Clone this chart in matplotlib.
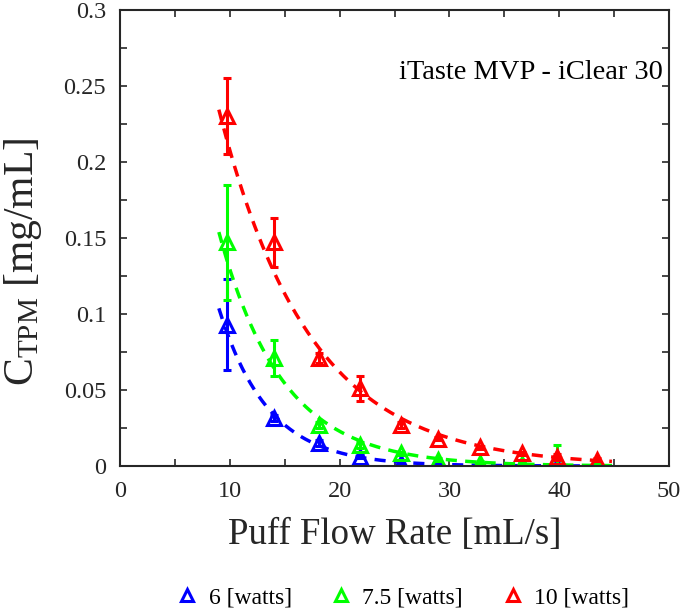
import numpy as np
import matplotlib
matplotlib.use('Agg')
import matplotlib.pyplot as plt
from matplotlib.ticker import MultipleLocator

plt.rcParams['font.family'] = ['Liberation Serif', 'DejaVu Serif']
plt.rcParams['mathtext.fontset'] = 'custom'
plt.rcParams['mathtext.rm'] = 'Liberation Serif'
plt.rcParams['mathtext.it'] = 'Liberation Serif:italic'

# flow rate [mL/s]
flow = np.array([9.7, 14.0, 18.1, 21.9, 25.6, 29.0, 32.8, 36.6, 39.8, 43.4])

# C_TPM [mg/mL] and error bars for each power setting
c6 = np.array([0.093, 0.0315, 0.015, 0.006, 0.0022, 0.0011, 0.0005, 0.00022, 0.0001, 0.00005])
e6 = np.array([0.030, 0.002, 0.002, 0.001, 0.001, 0.0005, 0.0005, 0.0005, 0.0005, 0.0005])
c75 = np.array([0.147, 0.071, 0.027, 0.014, 0.0085, 0.004, 0.0022, 0.0012, 0.005, 0.0001])
e75 = np.array([0.038, 0.012, 0.002, 0.002, 0.001, 0.001, 0.001, 0.001, 0.009, 0.001])
c10 = np.array([0.230, 0.147, 0.071, 0.051, 0.027, 0.018, 0.0125, 0.0085, 0.006, 0.004])
e10 = np.array([0.025, 0.016, 0.003, 0.0085, 0.002, 0.001, 0.001, 0.001, 0.002, 0.001])

labels = ['6 [watts]', '7.5 [watts]', '10 [watts]']
colors = ['#0000ff', '#00ff00', '#ff0000']


def expfit(x, y):
    # y = a*exp(b*x), fitted on log(y)
    b, lna = np.polyfit(x, np.log(y), 1)
    return np.exp(lna), b


fig = plt.figure(figsize=(6.82, 6.10), dpi=100)
ax = fig.add_axes([0.176, 0.236, 0.805, 0.748])

xf = np.linspace(9.0, 44.8, 200)
for c, e, lab, col in zip([c6, c75, c10], [e6, e75, e10], labels, colors):
    a, b = expfit(flow, c)
    ax.plot(xf, a*np.exp(b*xf), '--', color=col, lw=2.5, dashes=(3.2, 2.4))
    ax.errorbar(flow, c, yerr=e, fmt='none', ecolor=col, elinewidth=2.2,
                capsize=3, capthick=2.2)
    ax.plot(flow, c, '^', mfc='none', mec=col, mew=2.2, ms=10, label=lab)

ax.set_xlim(0, 50)
ax.set_ylim(0, 0.3)
ax.xaxis.set_major_locator(MultipleLocator(10))
ax.xaxis.set_minor_locator(MultipleLocator(5))
ax.yaxis.set_ticks([0, 0.05, 0.1, 0.15, 0.2, 0.25, 0.3])
ax.set_yticklabels(['0', '0.05', '0.1', '0.15', '0.2', '0.25', '0.3'])
ax.yaxis.set_minor_locator(MultipleLocator(0.025))
ax.tick_params(which='both', direction='in', top=True, right=True,
               length=5, width=1.2, color='#262626')
ax.tick_params(which='major', labelsize=17.5, labelcolor='#262626')
ax.tick_params(axis='y', which='major', pad=10)
ax.tick_params(axis='x', which='major', pad=11)
for s in ax.spines.values():
    s.set_linewidth(1.5)
    s.set_color('#262626')

ax.set_xlabel('Puff Flow Rate [mL/s]', fontsize=26.5, color='#262626', labelpad=11)
ax.set_ylabel(r'C$_{\mathrm{TPM}}$ [mg/mL]', fontsize=30, color='#262626')
ax.yaxis.set_label_coords(-0.138, 0.447)
ax.text(49.4, 0.259, 'iTaste MVP - iClear 30', fontsize=20.5, ha='right', va='center')

fig.legend(loc='center', bbox_to_anchor=(0.588, 0.02), ncol=3, frameon=False,
           fontsize=17, handletextpad=0.3, columnspacing=1.5, handlelength=1.2,
           markerscale=0.85)

fig.savefig('out.png', dpi=100)
